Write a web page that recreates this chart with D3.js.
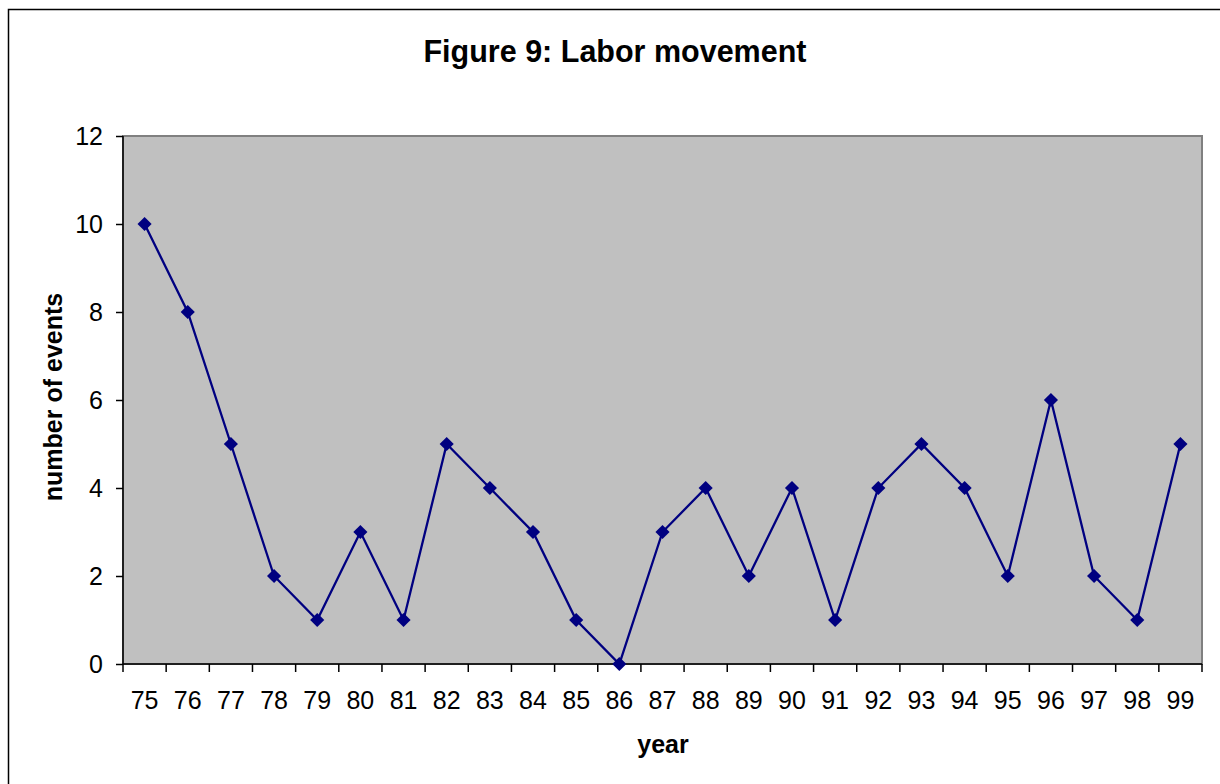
<!DOCTYPE html>
<html>
<head>
<meta charset="utf-8">
<script src="https://cdn.jsdelivr.net/npm/d3@7"></script>
<style>
  body { margin: 0; background: #fff; }
  svg { display: block; font-family: "Liberation Sans", Arial, sans-serif; }
</style>
</head>
<body>
<svg id="chart" width="1220" height="784"></svg>
<script>
const years = ["75","76","77","78","79","80","81","82","83","84","85","86","87","88","89","90","91","92","93","94","95","96","97","98","99"];
const events = [10, 8, 5, 2, 1, 3, 1, 5, 4, 3, 1, 0, 3, 4, 2, 4, 1, 4, 5, 4, 2, 6, 2, 1, 5];
const yTicks = [0, 2, 4, 6, 8, 10, 12];

const svg = d3.select("#chart");
const plot = { left: 123, right: 1202, top: 136, bottom: 664 };

// outer chart frame
svg.append("rect")
  .attr("x", 8.5).attr("y", 9.5)
  .attr("width", 1240).attr("height", 800)
  .attr("fill", "none").attr("stroke", "#000").attr("stroke-width", 1.5);

svg.append("text")
  .attr("x", 615).attr("y", 62)
  .attr("text-anchor", "middle")
  .attr("font-size", 30.5).attr("font-weight", "bold")
  .text("Figure 9: Labor movement");

const x = d3.scaleBand().domain(years).range([plot.left, plot.right]);
const y = d3.scaleLinear().domain([0, 12]).range([plot.bottom, plot.top]);

// plot area
svg.append("rect")
  .attr("x", plot.left).attr("y", plot.top)
  .attr("width", plot.right - plot.left).attr("height", plot.bottom - plot.top)
  .attr("fill", "#c0c0c0").attr("stroke", "#808080").attr("stroke-width", 2);

// y axis
const yAxis = svg.append("g")
  .attr("transform", `translate(${plot.left},0)`)
  .call(d3.axisLeft(y).tickValues(yTicks).tickSize(7).tickPadding(13));
yAxis.selectAll("text").attr("font-size", 25).attr("fill", "#000").attr("font-family", "Liberation Sans, Arial, sans-serif");
yAxis.selectAll("line, path").attr("stroke", "#000").attr("stroke-width", 1.5);
yAxis.select(".domain").attr("d", `M0,${plot.top}V${plot.bottom}`);

// x axis: ticks between categories
const xAxis = svg.append("g").attr("transform", `translate(0,${plot.bottom})`);
xAxis.append("line")
  .attr("x1", plot.left).attr("x2", plot.right)
  .attr("stroke", "#000").attr("stroke-width", 1.5);
const bounds = years.map(d => x(d)).concat([plot.right]);
xAxis.selectAll("line.tick")
  .data(bounds)
  .join("line").attr("class", "tick")
  .attr("x1", d => d).attr("x2", d => d)
  .attr("y1", 0).attr("y2", 8)
  .attr("stroke", "#000").attr("stroke-width", 1.5);
xAxis.selectAll("text")
  .data(years)
  .join("text")
  .attr("x", d => x(d) + x.bandwidth() / 2)
  .attr("y", 45)
  .attr("text-anchor", "middle")
  .attr("font-size", 25)
  .text(d => d);

svg.append("text")
  .attr("x", 663).attr("y", 753)
  .attr("text-anchor", "middle")
  .attr("font-size", 25).attr("font-weight", "bold")
  .text("year");

svg.append("text")
  .attr("transform", `translate(62,397) rotate(-90)`)
  .attr("text-anchor", "middle")
  .attr("font-size", 25).attr("font-weight", "bold")
  .text("number of events");

const cx = (d, i) => x(years[i]) + x.bandwidth() / 2;

svg.append("path")
  .datum(events)
  .attr("fill", "none")
  .attr("stroke", "#000080")
  .attr("stroke-width", 2.3)
  .attr("d", d3.line().x(cx).y(d => y(d)));

svg.append("g").selectAll("path")
  .data(events)
  .join("path")
  .attr("transform", (d, i) => `translate(${cx(d, i)},${y(d)}) rotate(45)`)
  .attr("d", "M-5,-5H5V5H-5Z")
  .attr("fill", "#000080");
</script>
</body>
</html>
